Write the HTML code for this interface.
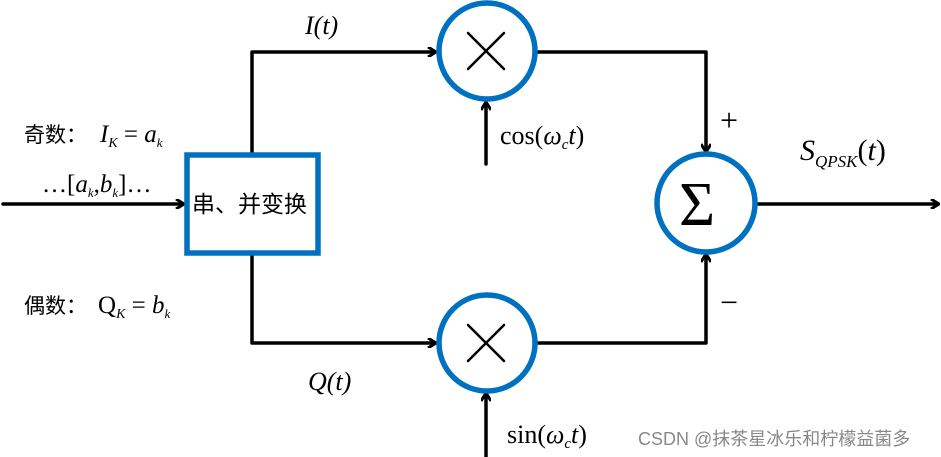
<!DOCTYPE html>
<html><head><meta charset="utf-8"><style>
html,body{margin:0;padding:0;background:#fff;width:941px;height:457px;overflow:hidden}
text{font-family:"Liberation Serif","Noto Serif CJK SC",serif;fill:#000}
.cj{font-family:"Liberation Sans","Noto Sans CJK SC",sans-serif}
</style></head><body>
<svg width="941" height="457" viewBox="0 0 941 457" xmlns="http://www.w3.org/2000/svg">
<defs><marker id="a" markerWidth="10" markerHeight="10" refX="8" refY="5" orient="auto" markerUnits="userSpaceOnUse"><path d="M1,0 L9,5 L1,10" fill="none" stroke="#000" stroke-width="3"/></marker></defs>
<g stroke="#000" stroke-width="3.5" fill="none" stroke-linecap="round" stroke-linejoin="round">
<line x1="3" y1="204" x2="183" y2="204" marker-end="url(#a)"/>
<polyline points="252,153 252,52 435,52" marker-end="url(#a)"/>
<polyline points="252,256 252,343 435,343" marker-end="url(#a)"/>
<polyline points="537,52 706,52 706,151" marker-end="url(#a)"/>
<polyline points="537,343 706,343 706,255" marker-end="url(#a)"/>
<line x1="486" y1="164" x2="486" y2="103" marker-end="url(#a)"/>
<line x1="486" y1="457" x2="486" y2="394" marker-end="url(#a)"/>
<line x1="757" y1="204" x2="938" y2="204" marker-end="url(#a)"/>
<line x1="468" y1="33" x2="504" y2="69" stroke-width="2.5"/>
<line x1="504" y1="33" x2="468" y2="69" stroke-width="2.5"/>
<line x1="468" y1="325" x2="504" y2="361" stroke-width="2.5"/>
<line x1="504" y1="325" x2="468" y2="361" stroke-width="2.5"/>
</g>
<g stroke="#0070C0" stroke-width="5.5" fill="none">
<rect x="187" y="155" width="131" height="98" fill="#fff"/>
<circle cx="487" cy="51" r="48"/>
<circle cx="487" cy="343" r="48"/>
<circle cx="706" cy="203" r="49"/>
</g>
<text class="cj" x="192" y="212" font-size="23">串、并变换</text>
<text x="679" y="225" font-size="62">Σ</text>
<text x="305" y="34" font-size="26" font-style="italic">I(t)</text>
<text x="308" y="390" font-size="26" font-style="italic">Q(t)</text>
<text x="500" y="144" font-size="26">cos(<tspan font-style="italic">ω</tspan><tspan font-style="italic" font-size="15" dy="5">c</tspan><tspan font-style="italic" dy="-5">t</tspan>)</text>
<text x="507" y="443" font-size="26">sin(<tspan font-style="italic">ω</tspan><tspan font-style="italic" font-size="15" dy="5">c</tspan><tspan font-style="italic" dy="-5">t</tspan>)</text>
<text x="720" y="131" font-size="32">+</text>
<text x="720" y="313" font-size="32">−</text>
<text x="800" y="160" font-size="30" font-style="italic">S<tspan font-size="17" dy="7">QPSK</tspan><tspan dy="-7" font-style="normal">(</tspan>t<tspan font-style="normal">)</tspan></text>
<text class="cj" x="24" y="142" font-size="21">奇数：</text>
<text x="100" y="142" font-size="25" font-style="italic">I<tspan font-size="14" dy="5">K</tspan><tspan dy="-5" font-style="normal"> = </tspan>a<tspan font-size="13" dy="5">k</tspan></text>
<text class="cj" x="24" y="313" font-size="21">偶数：</text>
<text x="98" y="313" font-size="25">Q<tspan font-size="14" dy="5" font-style="italic">K</tspan><tspan dy="-5"> = </tspan><tspan font-style="italic">b</tspan><tspan font-size="13" dy="5" font-style="italic">k</tspan></text>
<text x="42" y="192" font-size="25">…[<tspan font-style="italic">a</tspan><tspan font-size="13" dy="5" font-style="italic">k</tspan><tspan dy="-5">,</tspan><tspan font-style="italic">b</tspan><tspan font-size="13" dy="5" font-style="italic">k</tspan><tspan dy="-5">]…</tspan></text>
<text class="cj" x="638" y="445" font-size="18" style="fill:#888">CSDN @抹茶星冰乐和柠檬益菌多</text>
</svg>
</body></html>
